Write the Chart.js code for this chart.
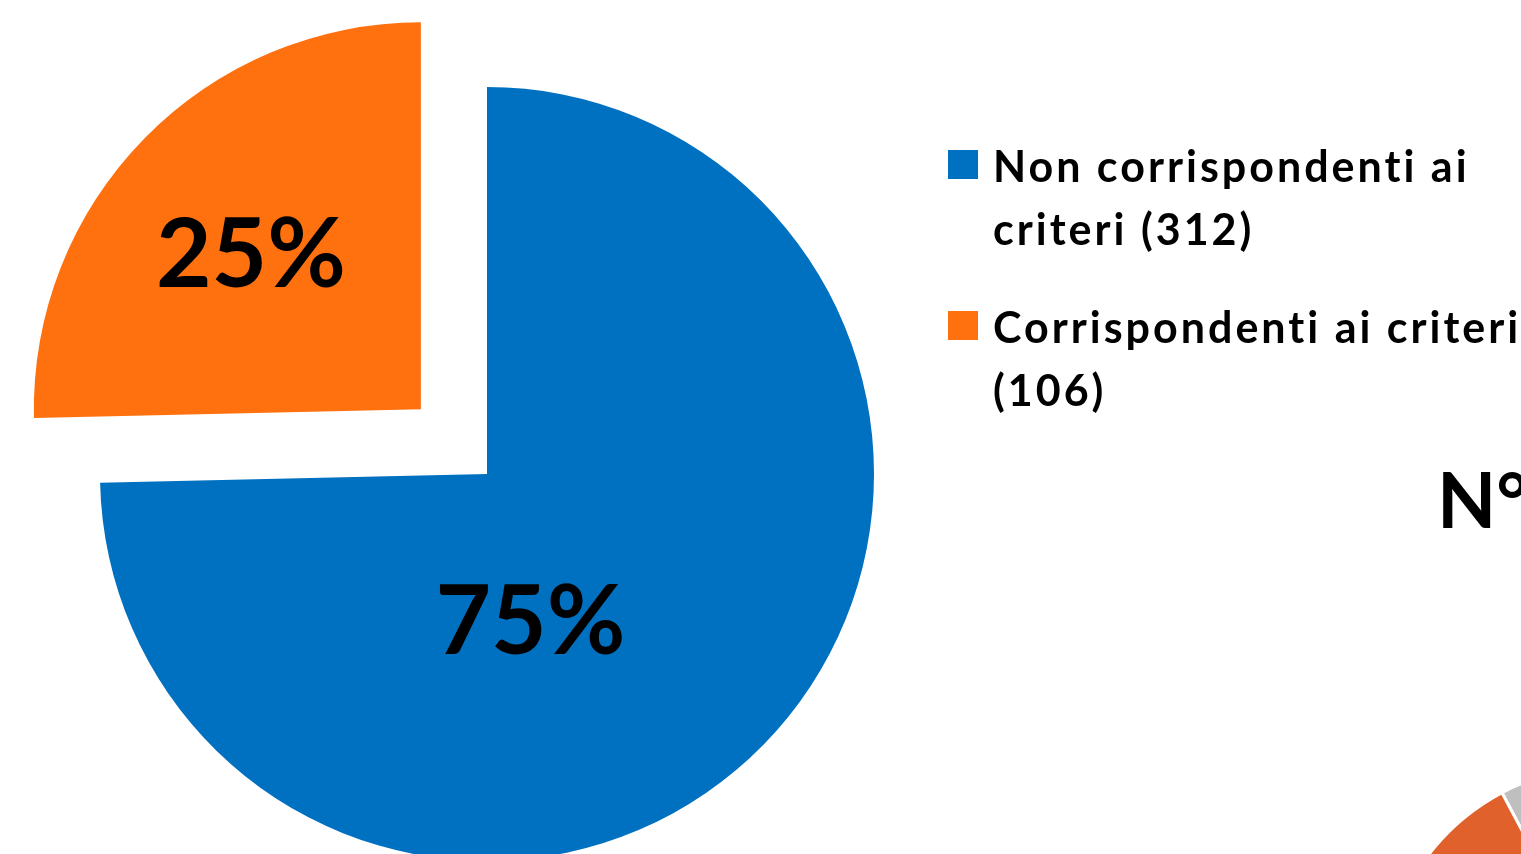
<!DOCTYPE html>
<html>
<head>
<meta charset="utf-8">
<script src="https://cdn.jsdelivr.net/npm/chart.js@4.4.1/dist/chart.umd.min.js"></script>
<style>
  html, body { margin: 0; padding: 0; background: #fff; overflow: hidden; }
  #stage { position: relative; width: 1521px; height: 854px; overflow: hidden;
           font-family: Lato, 'Open Sans', sans-serif; font-weight: 700; color: #000; }
  #mainChart { position: absolute; left: 0; top: 0; }
  #nextChart { position: absolute; left: 1359px; top: 744px; }
  #legend { position: absolute; left: 948px; top: 134px; width: 573px; }
  .item { display: flex; align-items: flex-start; height: 161px; }
  .swatch { width: 30px; height: 29px; margin-top: 16px; margin-right: 15px; flex: none; }
  .text { font-size: 43px; line-height: 63px; letter-spacing: 3px; white-space: nowrap; }
  #nextTitle { position: absolute; left: 1437px; top: 460px; font-size: 77px; line-height: 77px; white-space: nowrap; }
</style>
</head>
<body>
<div id="stage">
  <canvas id="mainChart" width="974" height="948"></canvas>
  <canvas id="nextChart" width="500" height="500"></canvas>
  <div id="legend"></div>
  <div id="nextTitle">N°</div>
</div>
<script>
// values
const categories = ['Non corrispondenti ai criteri', 'Corrispondenti ai criteri'];
const counts = [312, 106];
const sliceColors = ['#0070C0', '#FF700F'];
// legend lines as they wrap on the slide
const legendLines = [
  ['Non corrispondenti ai', 'criteri (312)'],
  ['Corrispondenti ai criteri', '(106)']
];

// neighbouring chart, only a corner of it shows
const nextValues = [25, 75];
const nextColors = ['#BFBFBF', '#E0612C'];

const total = counts.reduce((a, b) => a + b, 0);
const percentText = counts.map(v => Math.round(v / total * 100) + '%');

// draws the percent inside each slice
const sliceLabels = {
  id: 'sliceLabels',
  afterDatasetsDraw(chart, args, opts) {
    const ctx = chart.ctx;
    const meta = chart.getDatasetMeta(0);
    ctx.save();
    ctx.font = 'bold ' + opts.size + 'px Lato';
    ctx.fillStyle = '#000';
    ctx.textAlign = 'center';
    ctx.textBaseline = 'alphabetic';
    meta.data.forEach((arc, i) => {
      const p = arc.getProps(['x', 'y', 'startAngle', 'endAngle', 'outerRadius']);
      const mid = (p.startAngle + p.endAngle) / 2;
      const shift = (arc.options.offset || 0) / 4;
      const cx = p.x + Math.cos(mid) * shift;
      const cy = p.y + Math.sin(mid) * shift;
      const place = opts.place[i];
      const a = mid + place.turn * Math.PI / 180;
      const lx = cx + Math.cos(a) * place.frac * p.outerRadius;
      const ly = cy + Math.sin(a) * place.frac * p.outerRadius;
      ctx.fillText(percentText[i], lx, ly + opts.size * 0.36);
    });
    ctx.restore();
  }
};

new Chart(document.getElementById('mainChart'), {
  type: 'pie',
  data: {
    labels: categories,
    datasets: [{
      data: counts,
      backgroundColor: sliceColors,
      borderWidth: 0,
      offset: [0, 370]
    }]
  },
  options: {
    responsive: false,
    animation: false,
    radius: 387,
    layout: { padding: 0 },
    plugins: {
      legend: { display: false },
      tooltip: { enabled: false },
      sliceLabels: {
        size: 96,
        place: [{ turn: 29, frac: 0.392 }, { turn: -1.7, frac: 0.597 }]
      }
    }
  },
  plugins: [sliceLabels]
});

new Chart(document.getElementById('nextChart'), {
  type: 'pie',
  data: {
    labels: ['a', 'b'],
    datasets: [{
      data: nextValues,
      backgroundColor: nextColors,
      borderColor: '#fff',
      borderWidth: 3
    }]
  },
  options: {
    responsive: false,
    animation: false,
    radius: 228,
    rotation: 332,
    plugins: { legend: { display: false }, tooltip: { enabled: false } }
  }
});

// legend built from the same arrays
const legend = document.getElementById('legend');
categories.forEach((c, i) => {
  const item = document.createElement('div');
  item.className = 'item';
  const sw = document.createElement('div');
  sw.className = 'swatch';
  sw.style.background = sliceColors[i];
  const txt = document.createElement('div');
  txt.className = 'text';
  txt.innerHTML = legendLines[i].join('<br>');
  item.appendChild(sw);
  item.appendChild(txt);
  legend.appendChild(item);
});
</script>
</body>
</html>
